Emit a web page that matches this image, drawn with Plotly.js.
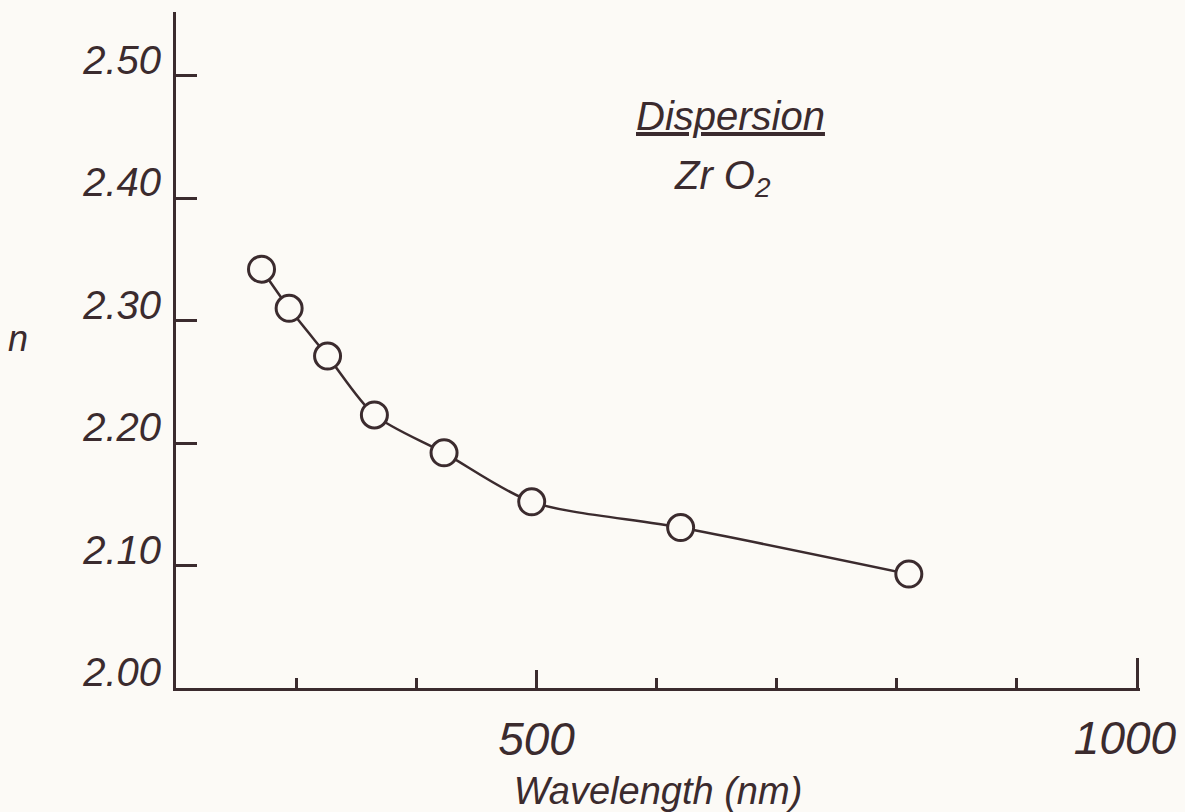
<!DOCTYPE html>
<html>
<head>
<meta charset="utf-8">
<script src="https://cdn.plot.ly/plotly-3.0.1.min.js"></script>
<style>
html,body{margin:0;padding:0;background:#fcfaf6;}
#chart{width:1185px;height:812px;}
</style>
</head>
<body>
<div id="chart"></div>
<script>
// Data (wavelength in nm, refractive index n)
const wavelength = [271, 294, 326, 365, 423, 496, 620, 810];
const refractiveIndex = [2.342, 2.310, 2.271, 2.223, 2.192, 2.152, 2.131, 2.093];
const yTickValues = [2.0, 2.1, 2.2, 2.3, 2.4, 2.5];
const yTickLabels = ["2.00", "2.10", "2.20", "2.30", "2.40", "2.50"];
const xTickValues = [500];
const xTickLabels = ["500"];
const xEndTickValues = [1000];
const xEndTickLabels = ["1000"];

const ink = "#3b2b2e";
const bg = "#fcfaf6";
const fontFam = "'Liberation Sans', Arial, sans-serif";
const narrowFam = "'Liberation Sans Narrow', 'Liberation Sans', Arial, sans-serif";

const trace = {
  x: wavelength,
  y: refractiveIndex,
  type: "scatter",
  mode: "lines+markers",
  line: {color: ink, width: 2.5, shape: "spline", smoothing: 0.8},
  marker: {symbol: "circle", size: 26, color: bg, line: {color: ink, width: 3}},
  cliponaxis: false,
  hoverinfo: "x+y"
};

// helper invisible trace on second x-axis that carries the long end tick at 1000
const endTick = {
  x: [1000], y: [2.0], xaxis: "x2", type: "scatter", mode: "markers",
  marker: {opacity: 0}, showlegend: false, hoverinfo: "skip"
};

const xRange = [199.8, 1002.5];
const tickFont = {family: fontFam, size: 46, color: ink, style: "italic"};

const layout = {
  width: 1185, height: 812,
  paper_bgcolor: bg, plot_bgcolor: bg,
  margin: {l: 176, r: 45, t: 12, b: 124},
  showlegend: false,
  xaxis: {
    range: xRange,
    showgrid: false, zeroline: false,
    showline: true, linecolor: ink, linewidth: 3,
    tickmode: "array", tickvals: xTickValues, ticktext: xTickLabels,
    ticks: "inside", ticklen: 18, tickwidth: 2.5, tickcolor: ink,
    minor: {dtick: 100, tick0: 200, ticks: "inside", ticklen: 10, tickwidth: 2.5, tickcolor: ink, showgrid: false},
    ticklabelstandoff: 9,
    tickfont: tickFont,
    title: {text: "Wavelength (nm)", standoff: 34, font: {family: fontFam, size: 38, color: ink, style: "italic"}},
    automargin: false
  },
  xaxis2: {
    range: xRange, overlaying: "x", side: "bottom", anchor: "y",
    showgrid: false, zeroline: false, showline: false,
    tickmode: "array", tickvals: xEndTickValues, ticktext: xEndTickLabels,
    ticks: "inside", ticklen: 30, tickwidth: 2.5, tickcolor: ink,
    ticklabelstandoff: 19, ticklabelshift: -12, ticklabeloverflow: "allow",
    tickfont: tickFont,
    automargin: false
  },
  yaxis: {
    range: [2.0, 2.552],
    showgrid: false, zeroline: false,
    showline: true, linecolor: ink, linewidth: 3,
    tickmode: "array", tickvals: yTickValues, ticktext: yTickLabels,
    ticks: "inside", ticklen: 21, tickwidth: 2.5, tickcolor: ink,
    ticklabelstandoff: 4,
    ticklabelshift: -16,
    tickfont: {family: narrowFam, size: 40, color: ink, style: "italic"},
    automargin: false
  },
  annotations: [
    {xref: "paper", yref: "paper", x: 0.575, y: 0.846, text: "<u>Dispersion</u>",
     showarrow: false, xanchor: "center", yanchor: "middle",
     font: {family: fontFam, size: 40, color: ink, style: "italic"}},
    {xref: "paper", yref: "paper", x: 0.567, y: 0.754, text: "Zr O<sub>2</sub>",
     showarrow: false, xanchor: "center", yanchor: "middle",
     font: {family: fontFam, size: 40, color: ink, style: "italic"}},
    {xref: "paper", yref: "paper", x: -0.164, y: 0.5175, text: "n",
     showarrow: false, xanchor: "center", yanchor: "middle",
     font: {family: fontFam, size: 36, color: ink, style: "italic"}}
  ]
};

Plotly.newPlot("chart", [trace, endTick], layout, {displayModeBar: false});
</script>
</body>
</html>
